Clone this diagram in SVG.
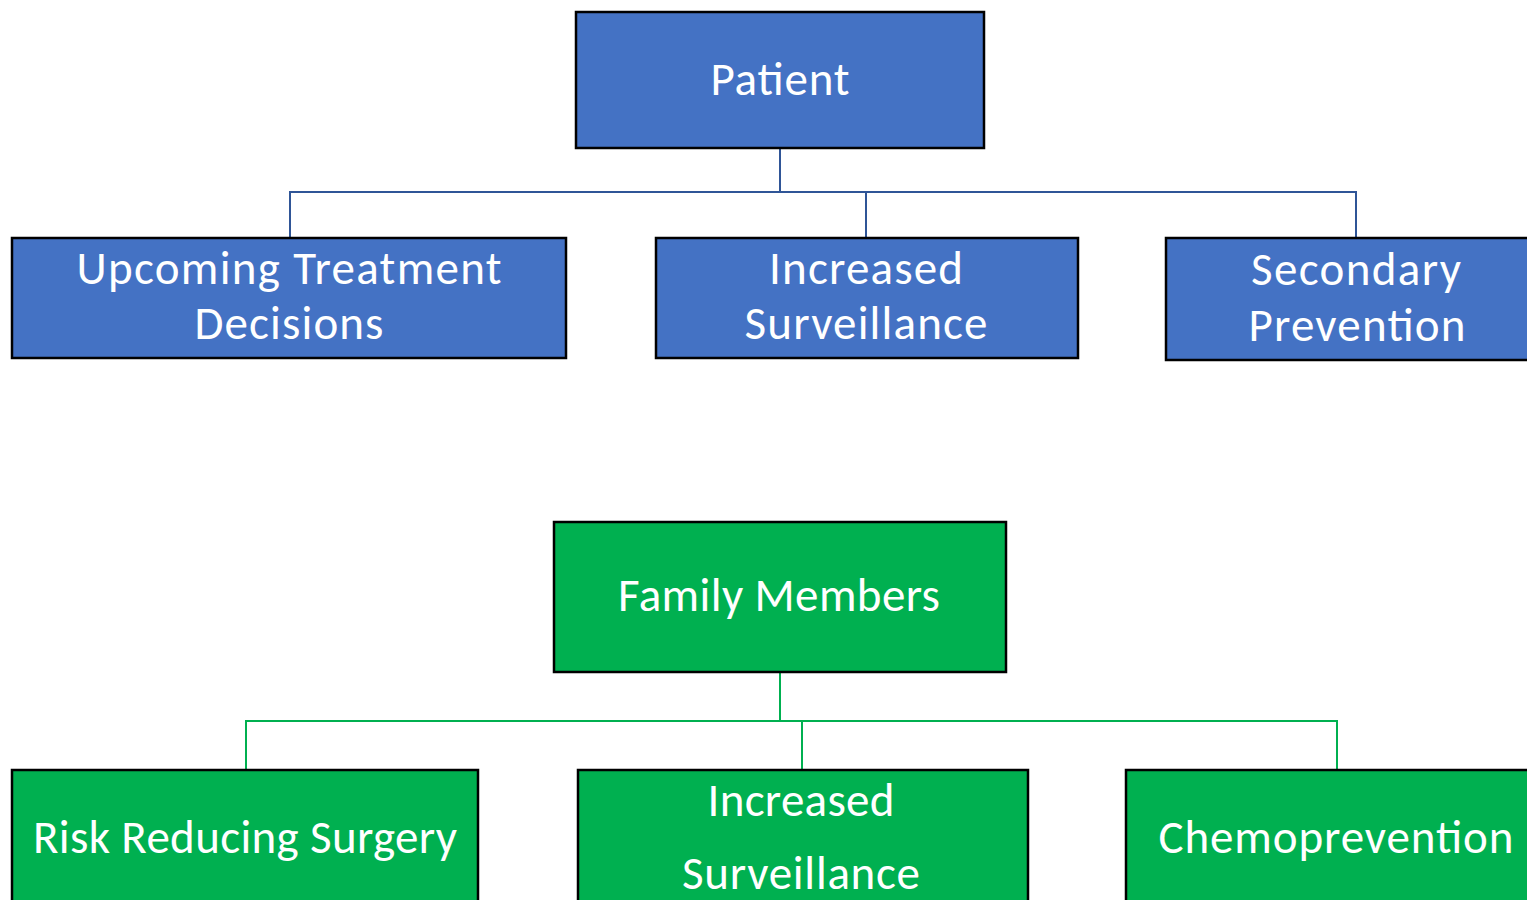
<svg xmlns="http://www.w3.org/2000/svg" width="1527" height="900" viewBox="0 0 1527 900">
<style>
.b{fill:#4472C4;stroke:#000;stroke-width:2.5}
.g{fill:#00B050;stroke:#000;stroke-width:2.5}
.t{font-family:Carlito,Calibri,Lato,"Open Sans",sans-serif;font-size:47px;fill:#fff;text-anchor:middle}
.cb{fill:none;stroke:#2F5597;stroke-width:2}
.cg{fill:none;stroke:#00B050;stroke-width:2}
</style>
<rect width="1527" height="900" fill="#fff"/>
<g id="connectors">
<path class="cb" d="M780 148V192M290 238V192H1356V238M866 192V238"/>
<path class="cg" d="M780 672V721M246 770V721H1337V770M802 721V770"/>
</g>
<g id="patient"><rect class="b" x="576" y="12" width="408" height="136"/><text class="t" x="780" y="95" textLength="139">Patient</text></g>
<g id="upcoming"><rect class="b" x="12" y="238" width="554" height="120"/><text class="t" x="289" y="284" textLength="425">Upcoming Treatment</text><text class="t" x="289" y="339" textLength="189">Decisions</text></g>
<g id="surveillance1"><rect class="b" x="656" y="238" width="422" height="120"/><text class="t" x="866" y="284" textLength="194">Increased</text><text class="t" x="866" y="339" textLength="243">Surveillance</text></g>
<g id="secondary"><rect class="b" x="1166" y="238" width="370" height="122"/><text class="t" x="1356" y="285" textLength="210">Secondary</text><text class="t" x="1357" y="341" textLength="217">Prevention</text></g>
<g id="family"><rect class="g" x="554" y="522" width="452" height="150"/><text class="t" x="779" y="611" textLength="322">Family Members</text></g>
<g id="risk"><rect class="g" x="12" y="770" width="466" height="140"/><text class="t" x="245" y="853" textLength="424">Risk Reducing Surgery</text></g>
<g id="surveillance2"><rect class="g" x="578" y="770" width="450" height="140"/><text class="t" x="801" y="816" textLength="187">Increased</text><text class="t" x="801" y="889" textLength="238">Surveillance</text></g>
<g id="chemo"><rect class="g" x="1126" y="770" width="410" height="140"/><text class="t" x="1336" y="853" textLength="355">Chemoprevention</text></g>
</svg>
